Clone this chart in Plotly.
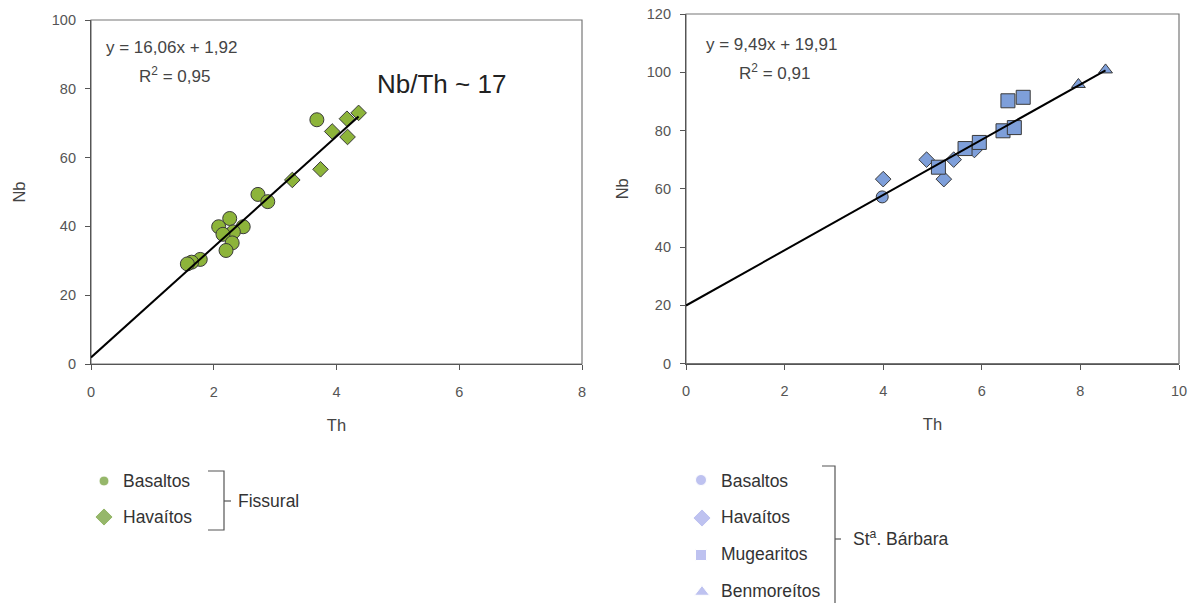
import plotly.graph_objects as go

# ---------------- data ----------------
# Fissural (left panel)
fis_bas_th = [3.68, 2.72, 2.88, 2.26, 2.08, 2.48, 2.32, 2.15, 2.30, 2.20, 1.78, 1.64, 1.57]
fis_bas_nb = [71.0, 49.3, 47.2, 42.3, 39.9, 39.9, 38.4, 37.7, 35.2, 33.0, 30.4, 29.6, 29.1]
fis_hav_th = [4.36, 4.17, 3.93, 4.18, 3.74, 3.28]
fis_hav_nb = [73.0, 71.3, 67.6, 66.0, 56.6, 53.5]
fis_slope, fis_intercept, fis_xmax = 16.06, 1.92, 4.36

# Santa Barbara (right panel)
sb_bas_th = [3.98]
sb_bas_nb = [57.2]
sb_hav_th = [4.00, 4.88, 5.23, 5.43, 5.85]
sb_hav_nb = [63.3, 70.0, 63.3, 70.0, 73.3]
sb_mug_th = [5.12, 5.66, 5.95, 6.43, 6.66, 6.53, 6.84]
sb_mug_nb = [67.4, 73.8, 75.9, 79.9, 81.0, 90.2, 91.4]
sb_ben_th = [7.96, 8.51]
sb_ben_nb = [95.8, 100.8]
sb_slope, sb_intercept, sb_xmax = 9.49, 19.91, 8.51

FONT = "Arial, Liberation Sans, sans-serif"
W, H = 1197, 603
GREEN = "#8db43a"
GREEN_L = "#6b9a2c"
BLUE = "#7e9fda"
BLUE_L = "#a3a9ea"
EDGE = "#3a3a3a"

fig = go.Figure()

# left panel markers
fig.add_trace(go.Scatter(x=fis_bas_th, y=fis_bas_nb, mode="markers", xaxis="x", yaxis="y",
                         marker=dict(symbol="circle", size=14, color=GREEN, line=dict(color=EDGE, width=1))))
fig.add_trace(go.Scatter(x=fis_hav_th, y=fis_hav_nb, mode="markers", xaxis="x", yaxis="y",
                         marker=dict(symbol="diamond", size=12, color=GREEN, line=dict(color=EDGE, width=1))))
fig.add_trace(go.Scatter(x=[0, fis_xmax], y=[fis_intercept, fis_slope * fis_xmax + fis_intercept],
                         mode="lines", xaxis="x", yaxis="y", line=dict(color="black", width=2)))

# right panel markers
fig.add_trace(go.Scatter(x=sb_hav_th, y=sb_hav_nb, mode="markers", xaxis="x2", yaxis="y2",
                         marker=dict(symbol="diamond", size=12, color=BLUE, line=dict(color=EDGE, width=1))))
fig.add_trace(go.Scatter(x=sb_bas_th, y=sb_bas_nb, mode="markers", xaxis="x2", yaxis="y2",
                         marker=dict(symbol="circle", size=12, color=BLUE, line=dict(color=EDGE, width=1))))
fig.add_trace(go.Scatter(x=sb_mug_th, y=sb_mug_nb, mode="markers", xaxis="x2", yaxis="y2",
                         marker=dict(symbol="square", size=14, color=BLUE, line=dict(color=EDGE, width=1))))
fig.add_trace(go.Scatter(x=sb_ben_th, y=sb_ben_nb, mode="markers", xaxis="x2", yaxis="y2",
                         marker=dict(symbol="triangle-up", size=12, color=BLUE, line=dict(color=EDGE, width=1))))
fig.add_trace(go.Scatter(x=[0, sb_xmax], y=[sb_intercept, sb_slope * sb_xmax + sb_intercept],
                         mode="lines", xaxis="x2", yaxis="y2", line=dict(color="black", width=2)))

# legend symbols on a full-figure overlay axis (pixel-like coordinates)
fig.add_trace(go.Scatter(x=[104, 104], y=[481, 517], mode="markers", xaxis="x3", yaxis="y3",
                         marker=dict(symbol=["circle", "diamond"], size=[10, 14], color=GREEN_L)))
fig.add_trace(go.Scatter(x=[701, 702, 701, 702], y=[480, 518, 555, 592], mode="markers", xaxis="x3", yaxis="y3",
                         marker=dict(symbol=["circle", "diamond", "square", "triangle-up"],
                                     size=[11, 14, 11, 13], color=BLUE_L)))

ax_common = dict(showgrid=False, zeroline=False, showline=True, linecolor="#555", linewidth=1.2,
                 mirror=False, ticks="outside", ticklen=5, tickcolor="#555", tickwidth=1,
                 tickfont=dict(family=FONT, size=14.5, color="#555"), fixedrange=True, automargin=False)

fig.update_layout(
    width=W, height=H, margin=dict(l=0, r=0, t=0, b=0, autoexpand=False),
    paper_bgcolor="white", plot_bgcolor="rgba(0,0,0,0)", showlegend=False,
    font=dict(family=FONT, color="#444"),
    xaxis=dict(domain=[91 / W, 582 / W], range=[0, 8], dtick=2, anchor="y",
               title=dict(text="Th", font=dict(size=16.5, color="#444"), standoff=20),
               ticklabelstandoff=9, **ax_common),
    yaxis=dict(domain=[(H - 364) / H, (H - 20) / H], range=[0, 100], dtick=20, anchor="x",
               title=dict(text="Nb", font=dict(size=16.5, color="#444"), standoff=22),
               ticklabelstandoff=6, **ax_common),
    xaxis2=dict(domain=[686 / W, 1179 / W], range=[0, 10], dtick=2, anchor="y2",
                title=dict(text="Th", font=dict(size=16.5, color="#444"), standoff=20),
                ticklabelstandoff=9, **ax_common),
    yaxis2=dict(domain=[(H - 363.5) / H, (H - 14) / H], range=[0, 120], dtick=20, anchor="x2",
                title=dict(text="Nb", font=dict(size=16.5, color="#444"), standoff=14),
                ticklabelstandoff=6, **ax_common),
    xaxis3=dict(domain=[0, 1], range=[0, W], visible=False, anchor="y3", fixedrange=True, automargin=False),
    yaxis3=dict(domain=[0, 1], range=[H, 0], visible=False, anchor="x3", fixedrange=True, automargin=False),
)

# frames (top/right borders)
for xr, yr in (("x", "y"), ("x2", "y2")):
    fig.add_shape(type="rect", xref=f"{xr} domain", yref=f"{yr} domain", x0=0, x1=1, y0=0, y1=1,
                  line=dict(color="#777", width=1.2), fillcolor="rgba(0,0,0,0)", layer="below")

def txt(x, y, s, size=17, anchor="left", color="#444"):
    fig.add_annotation(x=x, y=y, xref="x3", yref="y3", text=s, showarrow=False,
                       xanchor=anchor, yanchor="middle", font=dict(family=FONT, size=size, color=color))

# equations
txt(104, 47, "y = 16,06x + 1,92", size=17)
txt(137, 75, "R<sup>2</sup> = 0,95", size=17)
txt(375, 84, "Nb/Th ~ 17", size=26, color="#222")
txt(704, 44, "y = 9,49x + 19,91", size=17)
txt(737, 72, "R<sup>2</sup> = 0,91", size=17)

# legends
LS = 17.5
txt(121, 481, "Basaltos", size=LS, color="#333")
txt(121, 517, "Havaítos", size=LS, color="#333")
txt(236, 501, "Fissural", size=LS, color="#333")
txt(719, 481, "Basaltos", size=LS, color="#333")
txt(719, 517, "Havaítos", size=LS, color="#333")
txt(719, 554, "Mugearitos", size=LS, color="#333")
txt(719, 591, "Benmoreítos", size=LS, color="#333")
txt(851, 538, "St<sup>a</sup>. Bárbara", size=LS, color="#333")

# brackets
bk = dict(color="#555", width=1.2)
fig.add_shape(type="path", xref="x3", yref="y3", path="M 208 471 L 224 471 L 224 530 L 208 530", line=bk)
fig.add_shape(type="line", xref="x3", yref="y3", x0=224, x1=231, y0=501, y1=501, line=bk)
fig.add_shape(type="path", xref="x3", yref="y3", path="M 822 466 L 835 466 L 835 603", line=bk)
fig.add_shape(type="line", xref="x3", yref="y3", x0=835, x1=841, y0=539, y1=539, line=bk)

fig.write_html("out.html", config={"displayModeBar": False},
               post_script="document.body.style.margin='0';document.body.style.padding='0';")
